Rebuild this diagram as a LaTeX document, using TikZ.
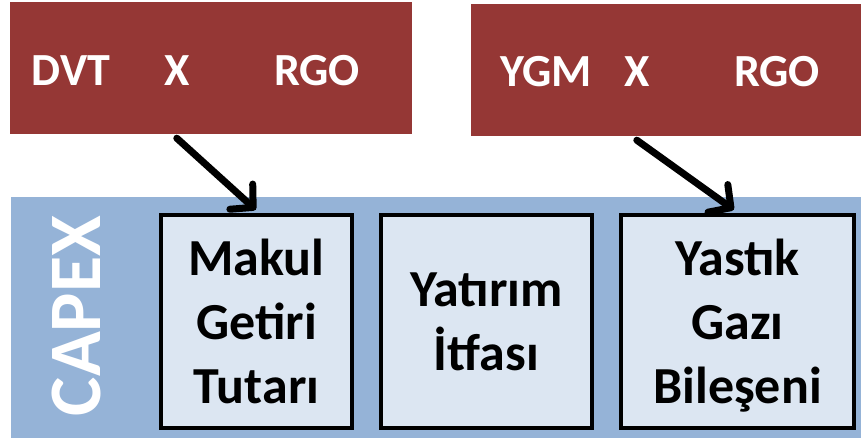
\documentclass[tikz,border=0pt]{standalone}
\usepackage{fontspec}
\setmainfont{Carlito}
\usetikzlibrary{arrows.meta, calc}

\definecolor{darkred}{HTML}{953735}
\definecolor{bandblue}{HTML}{95B3D7}
\definecolor{paleblue}{HTML}{DCE6F2}

\tikzset{
    redbox/.style={fill=darkred, minimum width=402pt, minimum height=132pt, inner sep=0pt},
    redtext/.style={text=white, font=\fontsize{46}{50}\selectfont\bfseries, inner sep=0pt, anchor=base},
    itembox/.style={draw=black, line width=4.5pt, fill=paleblue, minimum width=191pt, minimum height=213pt,
        align=center, inner sep=0pt, text depth=0pt, font=\fontsize{52}{64}\selectfont\bfseries},
    arr/.style={line width=7pt, line cap=round, -{Straight Barb[length=16pt, width=34pt, line width=7pt, round]}}
}

\begin{document}
\begin{tikzpicture}[x=1pt, y=-1pt]
    \useasboundingbox (0,0) rectangle (861,438);

    % top boxes
    \node[redbox] (redL) at (211, 68) {};
    \node[redbox, minimum width=390pt] (redR) at (666, 70) {};

    \node[redtext] (dvt) at (71, 86) {DVT};
    \node[redtext] (xL) at (177, 86) {X};
    \node[redtext] (rgoL) at (317, 86) {RGO};

    \node[redtext] (ygm) at (546, 87) {YGM};
    \node[redtext] (xR) at (637, 87) {X};
    \node[redtext] (rgoR) at (777, 87) {RGO};

    % capex band
    \fill[bandblue] (11, 197) rectangle (861, 438);
    \node[rotate=90, text=white, font=\fontsize{74}{80}\selectfont\bfseries, inner sep=0pt] (capex) at (76, 316) {CAPEX};

    \node[itembox] (makul) at (256.5, 321.5) {Makul\\Getiri\\Tutarı};
    \node[itembox, minimum width=211pt] (yatirim) at (486.5, 321.5) {Yatırım\\İtfası};
    \node[itembox, minimum width=233pt] (yastik) at (737.5, 321.5) {Yastık\\Gazı\\Bileşeni};

    % arrows
    \draw[arr] ($(redL.south west)+(167,4)$) -- ($(makul.north west)+(97,-3)$);
    \draw[arr] ($(redR.south west)+(166,4)$) -- ($(yastik.north west)+(115,-3)$);
\end{tikzpicture}
\end{document}
